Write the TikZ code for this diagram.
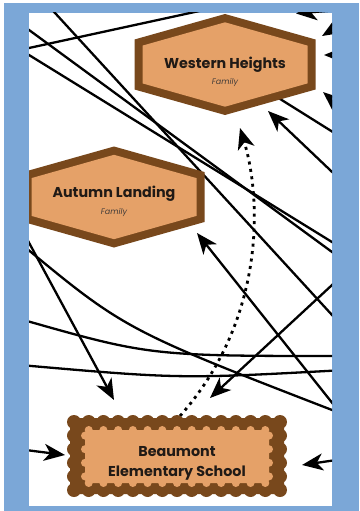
\documentclass[tikz,border=0pt]{standalone}
\usepackage{fontspec}
\setmainfont{Poppins}
\usetikzlibrary{arrows.meta}

\definecolor{frameblue}{RGB}{123,167,215}
\definecolor{hexbrown}{RGB}{120,72,28}
\definecolor{hextan}{RGB}{229,161,104}
\definecolor{inkdark}{RGB}{32,26,22}

\tikzset{
  link/.style={line width=2.3pt, draw=black},
  arrowlink/.style={link, -{Stealth[length=21pt,width=17pt,inset=6pt]}},
  dotlink/.style={line width=2.8pt, draw=black, dash pattern=on 3pt off 4.5pt,
    -{Stealth[length=21pt,width=17pt,inset=6pt]}},
  title/.style={font=\bfseries\fontsize{14.3}{20}\selectfont, text=inkdark, align=center},
  subtitle/.style={font=\itshape\fontsize{8}{9}\selectfont, text=inkdark!85},
  hexbadge/.pic={
    \fill[hexbrown] (0,-50.5) -- (90.5,-25) -- (90.5,25) -- (0,50.5)
      -- (-90.5,25) -- (-90.5,-25) -- cycle;
    \fill[hextan] (0,-42.2) -- (82.5,-18.9) -- (82.5,18.9) -- (0,42.2)
      -- (-82.5,18.9) -- (-82.5,-18.9) -- cycle;
  },
  % rectangle with a wavy rim, inner and outer edges following each other
  scallopbox/.pic={
    \fill[hexbrown, rounded corners=5pt] (-107,-38) rectangle (107,38);
    \foreach \i in {0,...,14} {
      \fill[hexbrown] (-103+14.714*\i,-34) circle[radius=7];
      \fill[hexbrown] (-103+14.714*\i,34) circle[radius=7];
    }
    \foreach \j in {1,...,4} {
      \fill[hexbrown] (-103,-34+13.6*\j) circle[radius=7];
      \fill[hexbrown] (103,-34+13.6*\j) circle[radius=7];
    }
    \fill[hextan, rounded corners=3pt] (-92,-26) rectangle (92,27);
    \foreach \i in {1,...,13} {
      \fill[hextan] (-103+14.714*\i,-26) circle[radius=4];
      \fill[hextan] (-103+14.714*\i,27) circle[radius=4];
    }
    \foreach \j in {1,...,4} {
      \fill[hextan] (-92,-34+13.6*\j) circle[radius=4];
      \fill[hextan] (92,-34+13.6*\j) circle[radius=4];
    }
  },
}

\begin{document}
\begin{tikzpicture}[x=1pt, y=-1pt]
\useasboundingbox (0,0) rectangle (359,511);

% frame and white sheet
\fill[frameblue] (4,3) rectangle (359,511);
\fill[white] (29,13) rectangle (332,506);

% node centres
\coordinate (wh) at (225,64.5);
\coordinate (al) at (114,197);
\coordinate (bs) at (177,456);

% connector ends
\coordinate (l1a) at (0,54.3);   \coordinate (l1b) at (220,6.5);
\coordinate (l2a) at (0,8.7);    \coordinate (l2b) at (360,272.5);
\coordinate (l3a) at (0,37.1);   \coordinate (l3b) at (360,259.3);
\coordinate (l4a) at (40,-3.4);  \coordinate (l4b) at (360,345.5);
\coordinate (l5b) at (360,149);
\coordinate (l6a) at (350,189);  \coordinate (wh-in) at (268,111);
\coordinate (l7a) at (345,419);  \coordinate (al-in) at (197,233);
\coordinate (l8a) at (20,243);   \coordinate (l8c) at (125,330);  \coordinate (l8b) at (345,415);
\coordinate (l9a) at (20,226);   \coordinate (bs-in1) at (114,400);
\coordinate (l10a) at (20,319);  \coordinate (l10c) at (150,356); \coordinate (l10b) at (345,356);
\coordinate (l11a) at (20,365);  \coordinate (l11c) at (180,379); \coordinate (l11b) at (345,370);
\coordinate (l12a) at (345,273); \coordinate (bs-in2) at (210,398);
\coordinate (l14a) at (10,448);  \coordinate (bs-in3) at (65,455);
\coordinate (l15a) at (350,458); \coordinate (bs-in4) at (302,465);
\coordinate (bs-top) at (180,416);
\coordinate (d1) at (265,320);   \coordinate (d2) at (262,200);   \coordinate (wh-in2) at (240,128);
\coordinate (a1a) at (360,13);   \coordinate (wh-r1) at (322,36);
\coordinate (a2a) at (365,55);   \coordinate (wh-r2) at (324,55);
\coordinate (a3a) at (358,122);  \coordinate (wh-r3) at (323,92);
\coordinate (a4a) at (350,9);    \coordinate (wh-r4) at (296,13.5);

\begin{scope}
\clip (29,13) rectangle (332,506);

% connectors
\draw[link] (l1a) -- (l1b);
\draw[link] (l2a) -- (l2b);
\draw[link] (l3a) -- (l3b);
\draw[link] (l4a) -- (l4b);
\draw[link] (wh) -- (l5b);
\draw[link] (l8a) .. controls (l8c) .. (l8b);
\draw[link] (l10a) .. controls (l10c) .. (l10b);
\draw[link] (l11a) .. controls (l11c) .. (l11b);
\draw[arrowlink] (l6a) -- (wh-in);
\draw[arrowlink] (l7a) -- (al-in);
\draw[arrowlink] (l9a) -- (bs-in1);
\draw[arrowlink] (l12a) -- (bs-in2);
\draw[arrowlink] (l14a) -- (bs-in3);
\draw[arrowlink] (l15a) -- (bs-in4);
\draw[arrowlink] (a1a) -- (wh-r1);
\draw[arrowlink] (a2a) -- (wh-r2);
\draw[arrowlink] (a3a) -- (wh-r3);
\draw[arrowlink] (a4a) -- (wh-r4);
\draw[dotlink] (bs-top) .. controls (d1) and (d2) .. (wh-in2);

% family badges
\pic at (wh) {hexbadge};
\pic at (al) {hexbadge};
% school box
\pic at (bs) {scallopbox};

% labels
\node[title] (whname) at (wh) {Western Heights};
\node[subtitle] (whkind) at ([yshift=-17.5pt]wh) {Family};
\node[title] (alname) at ([yshift=3pt]al) {Autumn Landing};
\node[subtitle] (alkind) at ([yshift=-15pt]al) {Family};
\node[title] (bsname) at ([yshift=-7.5pt]bs) {Beaumont\\Elementary School};
\end{scope}
\end{tikzpicture}
\end{document}
